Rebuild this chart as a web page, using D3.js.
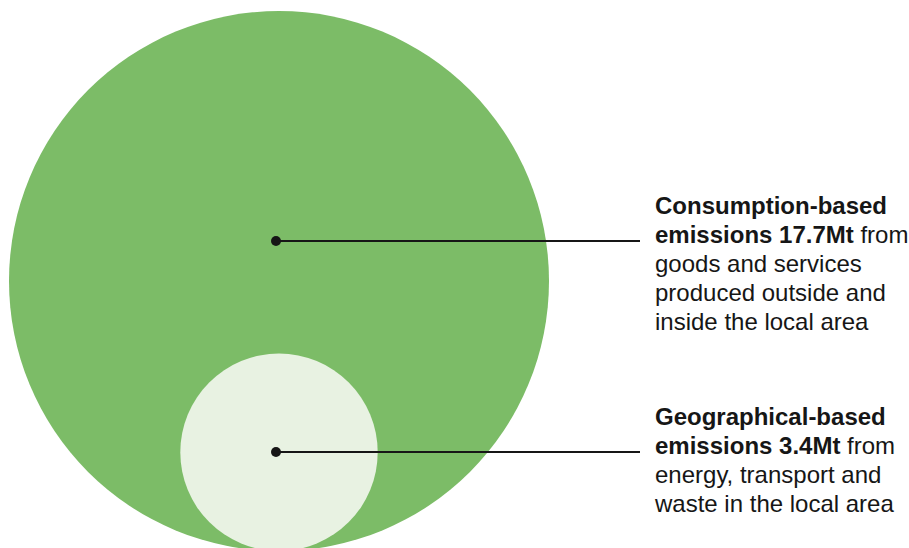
<!DOCTYPE html>
<html>
<head>
<meta charset="utf-8">
<script src="https://cdn.jsdelivr.net/npm/d3@7"></script>
<style>
  html, body { margin: 0; padding: 0; background: #fff; }
  svg { display: block; }
</style>
</head>
<body>
<div id="chart"></div>
<script>
// emissions, Mt
var names = ['Consumption-based', 'Geographical-based'];
var values = [17.7, 3.4];
var boldLines = [
    ['Consumption-based', 'emissions 17.7Mt'],
    ['Geographical-based', 'emissions 3.4Mt']
];
var restLines = [
    [' from', 'goods and services', 'produced outside and', 'inside the local area'],
    [' from', 'energy, transport and', 'waste in the local area']
];
var fills = ['#7cbc67', '#e8f2e2'];

var width = 909, height = 548;
var cx = 279, bottom = 551;
var lineH = 29;
var textX = 655, lineEnd = 640;
var labelTop = [214, 425];

var svg = d3.select('#chart').append('svg')
    .attr('width', width)
    .attr('height', height);

// radius scale (nested circles, bottom aligned)
var r = d3.scalePow().exponent(0.61)
    .domain([0, d3.max(values)])
    .range([0, 270]);

svg.append('g').selectAll('circle')
    .data(values)
    .enter()
    .append('circle')
    .attr('cx', cx)
    .attr('cy', d => bottom - r(d))
    .attr('r', d => r(d))
    .style('fill', (d, i) => fills[i]);

// labels
var labels = svg.append('g').selectAll('g')
    .data(names)
    .enter()
    .append('g');

labels.append('line')
    .attr('x1', cx - 3)
    .attr('x2', lineEnd)
    .attr('y1', (d, i) => labelTop[i] + lineH - 2)
    .attr('y2', (d, i) => labelTop[i] + lineH - 2)
    .style('stroke', '#161616')
    .style('stroke-width', 2.2);

labels.append('circle')
    .attr('cx', cx - 3)
    .attr('cy', (d, i) => labelTop[i] + lineH - 2)
    .attr('r', 5)
    .style('fill', '#161616');

labels.each(function (d, i) {
    var t = d3.select(this).append('text')
        .attr('x', textX)
        .attr('y', labelTop[i])
        .style('font', '24px "Liberation Sans", Arial, sans-serif')
        .style('fill', '#161616');

    t.append('tspan')
        .attr('x', textX).attr('y', labelTop[i])
        .style('font-weight', 'bold')
        .text(boldLines[i][0]);
    t.append('tspan')
        .attr('x', textX).attr('y', labelTop[i] + lineH)
        .style('font-weight', 'bold')
        .text(boldLines[i][1]);
    t.append('tspan')
        .text(restLines[i][0]);
    restLines[i].slice(1).forEach(function (s, k) {
        t.append('tspan')
            .attr('x', textX)
            .attr('y', labelTop[i] + lineH * (k + 2))
            .text(s);
    });
});
</script>
</body>
</html>
